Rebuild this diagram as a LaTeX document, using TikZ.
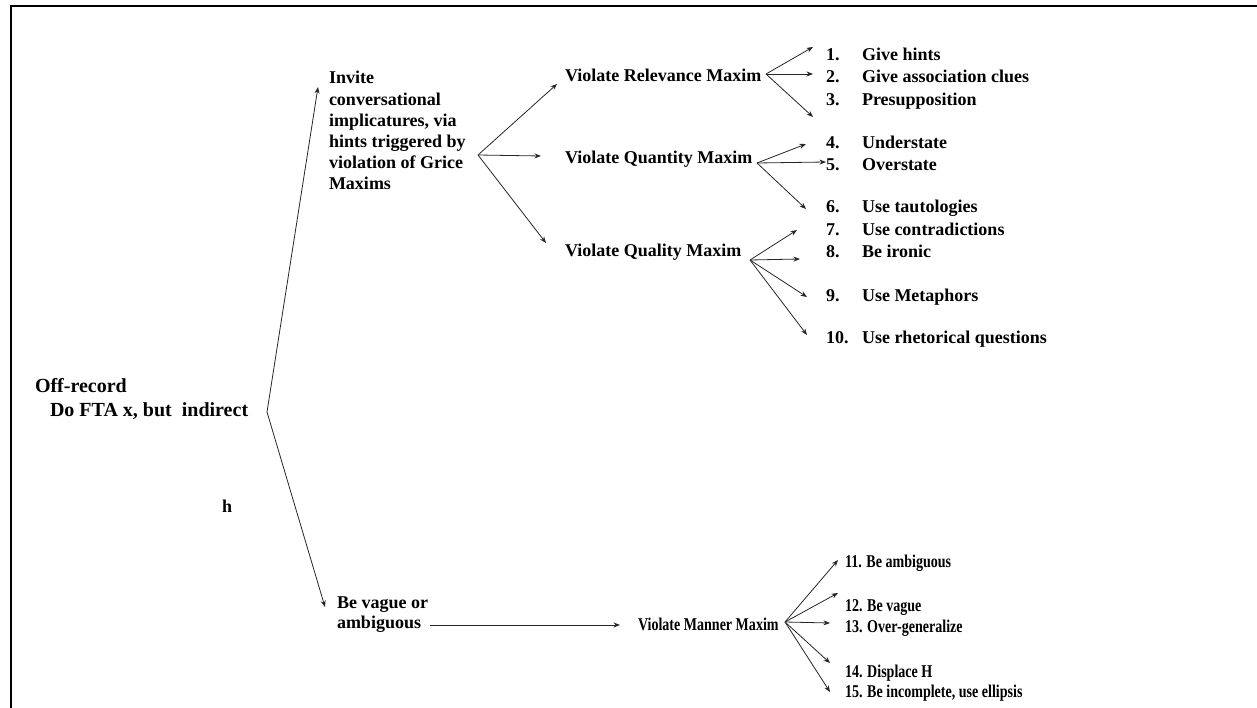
\documentclass[tikz,border=0pt]{standalone}
\usepackage{fontspec}
\setmainfont{Liberation Serif}
\newfontfamily\narrowserif[FakeStretch=0.78]{Liberation Serif}
\usetikzlibrary{arrows.meta}
\begin{document}
\begin{tikzpicture}[x=1pt,y=-1pt,
  lbl/.style={inner sep=0pt, outer sep=0pt, anchor=base west,
    font=\fontsize{18}{21.2}\selectfont\bfseries},
  mlbl/.style={lbl, align=left},
  nlbl/.style={lbl, font=\fontsize{18}{21.2}\selectfont\narrowserif\bfseries},
  arr/.style={line width=0.8pt, draw=black!85, -{Stealth[length=6.5pt,width=5pt]}},
  frame/.style={line width=2pt}
]
\useasboundingbox (0,0) rectangle (1257,708);
\draw[frame] (1257,6) -- (11,6) -- (11,708);

% texts (multi-line nodes: base anchor is on the last line)
\node[mlbl, font=\fontsize{20}{24}\selectfont\bfseries] (off) at (35,416) {Off-record\\\hspace*{15pt}Do FTA x, but\ \ indirect};
\node[lbl] (h) at (222,512) {h};
\node[mlbl] (inv) at (329,190) {Invite\\conversational\\implicatures, via\\hints triggered by\\violation of Grice\\Maxims};
\node[lbl] (rel) at (565,82) {Violate Relevance Maxim};
\node[lbl] (qty) at (565,164) {Violate Quantity Maxim};
\node[lbl] (qual) at (565,257) {Violate Quality Maxim};
\node[mlbl] (vag) at (337,628) {Be vague or\\[-1.2pt]ambiguous};
\node[nlbl] (man) at (638,630) {Violate Manner Maxim};

\newcommand{\itemnum}[1]{\makebox[36pt][l]{#1}}
\node[lbl] (i1) at (826,61) {\itemnum{1.}Give hints};
\node[lbl] (i2) at (826,83) {\itemnum{2.}Give association clues};
\node[lbl] (i3) at (826,106) {\itemnum{3.}Presupposition};
\node[lbl] (i4) at (826,149) {\itemnum{4.}Understate};
\node[lbl] (i5) at (826,171) {\itemnum{5.}Overstate};
\node[lbl] (i6) at (826,213) {\itemnum{6.}Use tautologies};
\node[lbl] (i7) at (826,235.5) {\itemnum{7.}Use contradictions};
\node[lbl] (i8) at (826,258) {\itemnum{8.}Be ironic};
\node[lbl] (i9) at (826,301.5) {\itemnum{9.}Use Metaphors};
\node[lbl] (i10) at (826,343) {\itemnum{10.}Use rhetorical questions};

\node[nlbl] (i11) at (845,567) {11. Be ambiguous};
\node[nlbl] (i12) at (845,611) {12. Be vague};
\node[nlbl] (i13) at (845,632) {13. Over-generalize};
\node[nlbl] (i14) at (845,677) {14. Displace H};
\node[nlbl] (i15) at (845,697) {15. Be incomplete, use ellipsis};

% fork points and arrow tips
\coordinate (f0) at (267,412);
\coordinate (t0a) at (318,87);
\coordinate (t0b) at (325,607);
\coordinate (f1) at (478,155);
\coordinate (t1a) at (557,84);
\coordinate (t1b) at (541,156);
\coordinate (t1c) at (546,243);
\coordinate (f2) at (766,74);
\coordinate (t2a) at (813,47);
\coordinate (t2b) at (813,74);
\coordinate (t2c) at (813,117);
\coordinate (f3) at (757,163);
\coordinate (t3a) at (806,144);
\coordinate (t3b) at (826,162);
\coordinate (t3c) at (806,209);
\coordinate (f4) at (750,260);
\coordinate (t4a) at (797,230);
\coordinate (t4b) at (800,259);
\coordinate (t4c) at (807,297);
\coordinate (t4d) at (807,335);
\coordinate (vs) at (430,625);
\coordinate (vt) at (620,625);
\coordinate (f5) at (785,622);
\coordinate (t5a) at (838,560);
\coordinate (t5b) at (838,593);
\coordinate (t5c) at (830,623);
\coordinate (t5d) at (830,663);
\coordinate (t5e) at (830,692);

\foreach \f/\t in {f0/t0a,f0/t0b,f1/t1a,f1/t1b,f1/t1c,f2/t2a,f2/t2b,f2/t2c,
  f3/t3a,f3/t3b,f3/t3c,f4/t4a,f4/t4b,f4/t4c,f4/t4d,vs/vt,
  f5/t5a,f5/t5b,f5/t5c,f5/t5d,f5/t5e}
  \draw[arr] (\f) -- (\t);
\end{tikzpicture}
\end{document}
